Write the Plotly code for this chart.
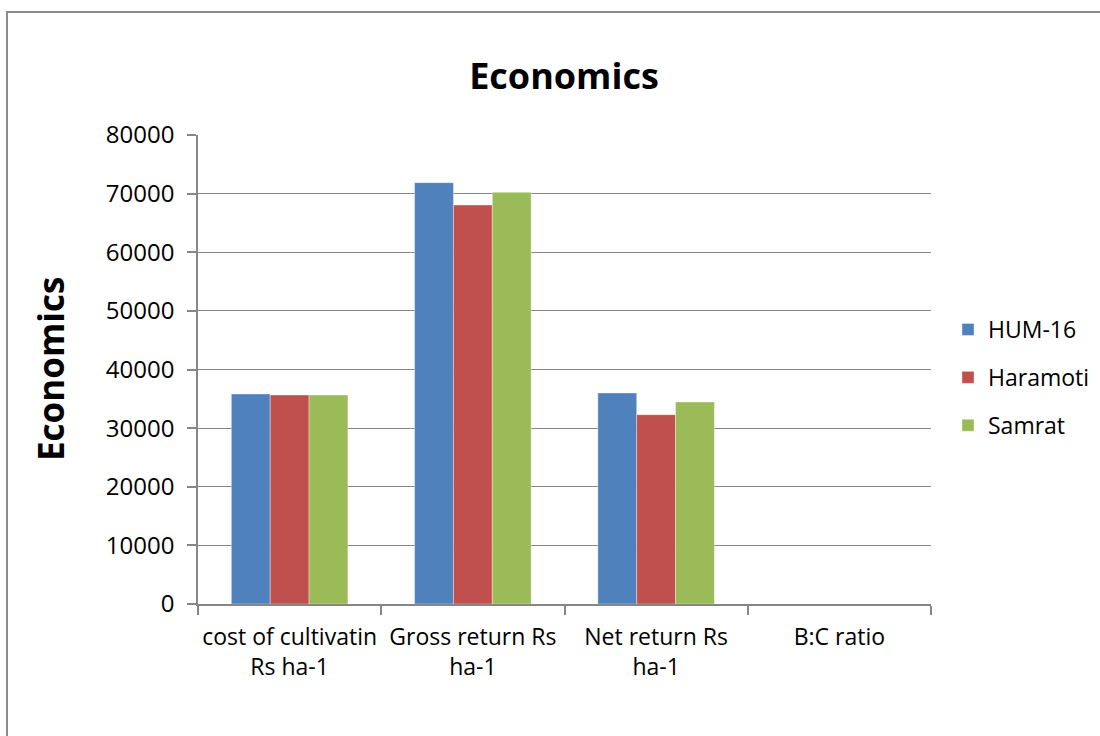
import plotly.graph_objects as go

categories = ["cost of cultivatin<br>Rs ha-1", "Gross return Rs<br>ha-1", "Net return Rs<br>ha-1", "B:C ratio"]
series_names = ["HUM-16", "Haramoti", "Samrat"]
hum16 = [35820, 71870, 35990, 2.01]
haramoti = [35650, 68060, 32290, 1.90]
samrat = [35650, 70220, 34460, 1.97]
colors = ["#4F81BD", "#C0504D", "#9BBB59"]
y_ticks = [0, 10000, 20000, 30000, 40000, 50000, 60000, 70000, 80000]

W, H = 1100, 736
L, R, T, B = 198, 931, 135, 604

def px_x(p):
    return (p - L) / (R - L)

def px_y(p):
    return (B - p) / (B - T)

FONT = "Open Sans"
GRAY = "#868686"

fig = go.Figure()
for i, (name, vals) in enumerate(zip(series_names, [hum16, haramoti, samrat])):
    fig.add_trace(go.Bar(
        name=name, x=categories, y=vals,
        marker=dict(color=colors[i], line=dict(color="rgba(255,255,255,0.6)", width=0.6)),
        legendgroup=name,
    ))

fig.update_layout(
    width=W, height=H,
    margin=dict(l=L, r=W - R, t=T, b=H - B, autoexpand=False),
    paper_bgcolor="white", plot_bgcolor="white",
    barmode="group", bargap=0.364, bargroupgap=0,
    font=dict(family=FONT, size=24, color="black"),
    title=dict(text="Economics", x=px_x(564), xref="paper", xanchor="center",
               y=1 - 76 / H, yref="container", yanchor="middle",
               font=dict(family=FONT, size=36, weight=700, color="black")),
    legend=dict(x=px_x(948), xanchor="left", y=px_y(308), yanchor="top",
                font=dict(family=FONT, size=23, color="black"),
                traceorder="grouped", tracegroupgap=15, bgcolor="rgba(0,0,0,0)"),
    showlegend=True,
)

fig.update_xaxes(
    type="category", tickson="boundaries", ticks="outside", ticklen=9,
    tickcolor=GRAY, tickwidth=1.5, showline=True, linecolor=GRAY, linewidth=1.5,
    showgrid=False, tickangle=0, automargin=False, ticklabelstandoff=12,
    tickfont=dict(family=FONT, size=23, color="black"),
)
fig.update_yaxes(
    range=[0, 80000], tickvals=y_ticks, tickformat="d", ticks="outside", ticklen=9,
    tickcolor=GRAY, tickwidth=1.5, showline=True, linecolor=GRAY, linewidth=1.5,
    showgrid=True, gridcolor=GRAY, gridwidth=1, zeroline=False, automargin=False,
    tickfont=dict(family=FONT, size=24, color="black"), ticklabelstandoff=8,
)

fig.add_annotation(
    text="Economics", textangle=-90, xref="paper", yref="paper",
    x=px_x(50), y=px_y(369), xanchor="center", yanchor="middle", showarrow=False,
    font=dict(family=FONT, size=35, weight=700, color="black"),
)

fig.add_shape(
    type="rect", xref="paper", yref="paper",
    x0=px_x(7), x1=px_x(1110), y0=px_y(760), y1=px_y(12),
    line=dict(color="#8c8c8c", width=2), fillcolor="rgba(0,0,0,0)", layer="below",
)

fig.write_html("out.html")
